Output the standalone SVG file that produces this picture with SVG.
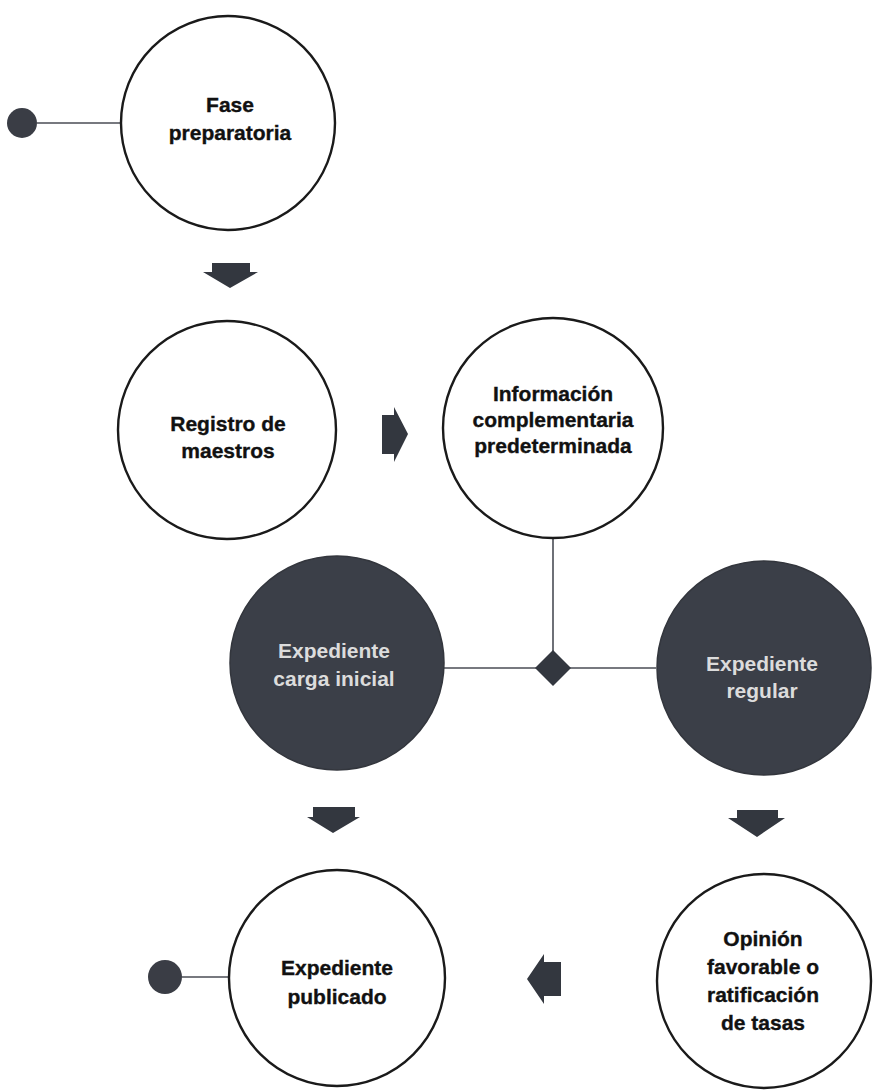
<svg xmlns="http://www.w3.org/2000/svg" width="873" height="1090" viewBox="0 0 873 1090">
  <style>
    .node { fill: #ffffff; stroke: #1a1a1a; stroke-width: 2.4; }
    .dark { fill: #3b3f48; stroke: #33363d; stroke-width: 1.5; }
    .label { font-family: "Liberation Sans", Arial, Helvetica, sans-serif; font-weight: bold; font-size: 21px; fill: #111111; stroke: #111111; stroke-width: 0.35; text-anchor: middle; }
    .label-light { font-family: "Liberation Sans", Arial, Helvetica, sans-serif; font-weight: bold; font-size: 21px; fill: #dcdcdc; text-anchor: middle; }
    .link { stroke: #4a4d55; stroke-width: 1.6; fill: none; }
    .dot { fill: #3a3d45; }
    .flow { fill: #33373f; }
  </style>

  <rect width="873" height="1090" fill="#ffffff"/>

  <!-- connectors and flow arrows -->
  <g id="connectors">
    <line class="link" x1="37" y1="123" x2="121" y2="123"/>
    <line class="link" x1="553" y1="537" x2="553" y2="651"/>
    <line class="link" x1="444" y1="668" x2="656" y2="668"/>
    <line class="link" x1="182" y1="977" x2="229" y2="977"/>
    <polygon class="flow" points="553,650 571,668 553,686 535,668"/>
    <!-- down arrow under Fase preparatoria -->
    <polygon class="flow" points="212,263 250,263 250,272 258,272 230,288 203,272 212,272"/>
    <!-- right arrow between Registro and Información -->
    <polygon class="flow" points="382,415 394,415 394,407 408,434 394,462 394,454 382,454"/>
    <!-- down arrow under Expediente carga inicial -->
    <polygon class="flow" points="313,807 355,807 355,817 360,817 333,833 307,817 313,817"/>
    <!-- down arrow under Expediente regular -->
    <polygon class="flow" points="737,810 778,810 778,818 785,818 757,837 728,818 737,818"/>
    <!-- left arrow between Opinión and Expediente publicado -->
    <polygon class="flow" points="561,962 544,962 544,954 527,979 544,1004 544,996 561,996"/>
  </g>

  <g id="start-top">
    <circle class="dot" cx="22" cy="123" r="15"/>
  </g>

  <g id="fase-preparatoria">
    <circle class="node" cx="228" cy="123" r="107"/>
    <text class="label" x="230" y="112">Fase</text>
    <text class="label" x="230" y="140">preparatoria</text>
  </g>

  <g id="registro-maestros">
    <circle class="node" cx="227" cy="430" r="109"/>
    <text class="label" x="228" y="431">Registro de</text>
    <text class="label" x="228" y="458">maestros</text>
  </g>

  <g id="informacion-complementaria">
    <circle class="node" cx="553" cy="428" r="110"/>
    <text class="label" x="553" y="401">Información</text>
    <text class="label" x="553" y="427">complementaria</text>
    <text class="label" x="553" y="453">predeterminada</text>
  </g>

  <g id="expediente-carga-inicial">
    <circle class="dark" cx="337" cy="663" r="107"/>
    <text class="label-light" x="334" y="658">Expediente</text>
    <text class="label-light" x="334" y="686">carga inicial</text>
  </g>

  <g id="expediente-regular">
    <circle class="dark" cx="764" cy="668" r="107"/>
    <text class="label-light" x="762" y="671">Expediente</text>
    <text class="label-light" x="762" y="698">regular</text>
  </g>

  <g id="expediente-publicado">
    <circle class="node" cx="337" cy="978" r="108"/>
    <text class="label" x="337" y="975">Expediente</text>
    <text class="label" x="337" y="1004">publicado</text>
  </g>

  <g id="opinion-favorable">
    <circle class="node" cx="764" cy="981" r="107"/>
    <text class="label" x="763" y="946">Opinión</text>
    <text class="label" x="763" y="974">favorable o</text>
    <text class="label" x="763" y="1002">ratificación</text>
    <text class="label" x="763" y="1030">de tasas</text>
  </g>

  <g id="end-bottom">
    <circle class="dot" cx="165" cy="977" r="17"/>
  </g>
</svg>
